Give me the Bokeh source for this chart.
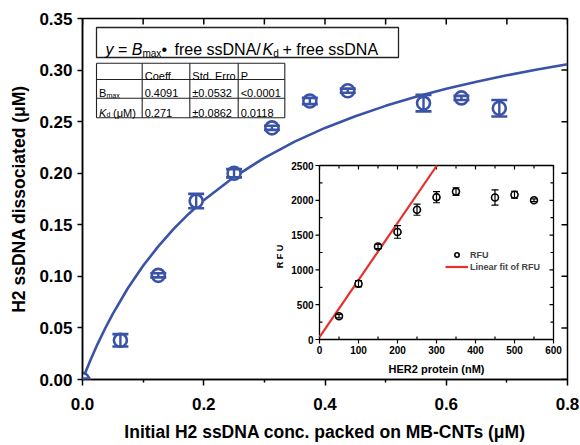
from bokeh.plotting import figure
from bokeh.models import (Range1d, FixedTicker, PrintfTickFormatter,
                          ColumnDataSource, Whisker, TeeHead, Legend, LegendItem)
from bokeh.core.properties import value
from bokeh.embed import file_html
from bokeh.resources import INLINE
import math

# ---------------- data ----------------
conc = [0.0, 0.0625, 0.125, 0.1875, 0.25, 0.3125, 0.375, 0.4375, 0.5625, 0.625, 0.6875]
dissociated = [0.0, 0.038, 0.101, 0.173, 0.200, 0.244, 0.270, 0.280, 0.268, 0.273, 0.263]
dissociated_err = [0.001, 0.006, 0.002, 0.007, 0.004, 0.002, 0.003, 0.002, 0.008, 0.002, 0.008]

fit_conc = [0.0, 0.0125, 0.025, 0.0375, 0.05, 0.075, 0.1, 0.125, 0.15, 0.175, 0.2, 0.25, 0.3,
            0.35, 0.4, 0.45, 0.5, 0.55, 0.6, 0.65, 0.7, 0.75, 0.8]
fit_val = [0.0, 0.0180, 0.0346, 0.0497, 0.0637, 0.0887, 0.1103, 0.1291, 0.1458, 0.1605, 0.1737,
           0.1963, 0.2149, 0.2306, 0.2439, 0.2553, 0.2653, 0.2741, 0.2818, 0.2887, 0.2949, 0.3005, 0.3056]

x_ticks = [0.0, 0.2, 0.4, 0.6, 0.8]
x_minor = [0.1, 0.3, 0.5, 0.7]
y_ticks = [0.0, 0.05, 0.10, 0.15, 0.20, 0.25, 0.30, 0.35]
top_ticks = [0.0, 0.1, 0.2, 0.3, 0.4, 0.5, 0.6, 0.7, 0.8]

her2 = [50, 100, 150, 200, 250, 300, 350, 450, 500, 550]
rfu = [335, 800, 1336, 1545, 1865, 2045, 2125, 2040, 2080, 2000]
rfu_err = [25, 45, 30, 90, 80, 80, 55, 110, 50, 20]
linfit_x = [0, 301]
linfit_y = [35, 2500]

inset_xlim = [0, 600]
inset_ylim = [0, 2500]
inset_xticks = [0, 100, 200, 300, 400, 500, 600]
inset_xminor = [50, 150, 250, 350, 450, 550]
inset_yticks = [0, 500, 1000, 1500, 2000, 2500]
inset_yminor = [250, 750, 1250, 1750, 2250]

table_header = ["Coeff.", "Std. Erro", "P"]
bmax_row = ["0.4091", "\u00b10.0532", "<0.0001"]
kd_row = ["0.271", "\u00b10.0862", "0.0118"]

BLUE = "#3a53a6"
RED = "#e6302b"
FONT = "Liberation Sans"

# ---------------- layout (canvas pixels) ----------------
W, H = 580, 445
X0, X1 = 82, 567
Y_T, Y_B = 18, 379
I_L, I_R, I_T, I_B = 319, 553, 165, 339
XR = (0.0, 0.8)
YR = (0.0, 0.35)

p = figure(width=W, height=H,
           x_range=Range1d(*XR), y_range=Range1d(*YR),
           output_backend="svg", toolbar_location=None,
           min_border_left=X0, min_border_right=W - X1,
           min_border_top=Y_T, min_border_bottom=H - Y_B,
           background_fill_color="white", border_fill_color="white")
p.grid.visible = False
p.outline_line_color = "black"
p.outline_line_width = 1.5

kx = (I_R - I_L) / (inset_xlim[1] - inset_xlim[0])
ky = (I_B - I_T) / (inset_ylim[1] - inset_ylim[0])
ix0 = inset_xlim[0] - (I_L - X0) / kx
ix1 = ix0 + (X1 - X0) / kx
iy0 = inset_ylim[0] - (Y_B - I_B) / ky
iy1 = iy0 + (Y_B - Y_T) / ky
p.extra_x_ranges = {"px": Range1d(X0, X1), "ix": Range1d(ix0, ix1)}
p.extra_y_ranges = {"py": Range1d(Y_B, Y_T), "iy": Range1d(iy0, iy1)}


def style_axis(ax):
    ax.axis_line_width = 1.5
    ax.major_tick_line_width = 1.5
    ax.minor_tick_line_width = 1.5
    ax.axis_line_color = "black"
    ax.major_tick_line_color = "black"
    ax.minor_tick_line_color = "black"
    ax.major_label_text_font = FONT
    ax.major_label_text_font_style = "bold"
    ax.major_label_text_font_size = "17px"
    ax.major_label_text_color = "black"
    ax.axis_label_text_font = FONT
    ax.axis_label_text_font_style = "bold"
    ax.axis_label_text_font_size = "17.5px"
    ax.axis_label_text_color = "black"


xa = p.xaxis[0]
style_axis(xa)
xa.ticker = FixedTicker(ticks=x_ticks, minor_ticks=x_minor)
xa.formatter = PrintfTickFormatter(format="%.1f")
xa.major_tick_out = 6
xa.major_tick_in = 0
xa.minor_tick_out = 3
xa.minor_tick_in = 0
xa.major_label_standoff = 12
xa.axis_label = "Initial H2 ssDNA conc. packed on MB-CNTs (\u03bcM)"
xa.axis_label_standoff = 9

ya = p.yaxis[0]
style_axis(ya)
ya.ticker = FixedTicker(ticks=y_ticks, minor_ticks=[])
ya.formatter = PrintfTickFormatter(format="%.2f")
ya.major_tick_out = 5
ya.major_tick_in = 0
ya.major_label_standoff = 5
ya.axis_label = "H2 ssDNA dissociated (\u03bcM)"
ya.axis_label_standoff = 7

# mirrored inward ticks on top and right edges of the main frame
kxx = (X1 - X0) / (XR[1] - XR[0])
kyy = (Y_B - Y_T) / (YR[1] - YR[0])
p.segment(x0=top_ticks, x1=top_ticks, y0=[YR[1]] * len(top_ticks),
          y1=[YR[1] - 6 / kyy] * len(top_ticks), line_color="black", line_width=1.5)
p.segment(x0=[XR[1]] * len(y_ticks), x1=[XR[1] - 6 / kxx] * len(y_ticks), y0=y_ticks, y1=y_ticks,
          line_color="black", line_width=1.5)

# ---------------- main series ----------------
p.line(fit_conc, fit_val, line_color=BLUE, line_width=2.6)

src = ColumnDataSource(dict(x=conc, y=dissociated,
                            lo=[v - e for v, e in zip(dissociated, dissociated_err)],
                            hi=[v + e for v, e in zip(dissociated, dissociated_err)]))
p.scatter("x", "y", source=src, marker="circle", size=13, fill_color="white",
          line_color=BLUE, line_width=2.6)
p.add_layout(Whisker(base="x", lower="lo", upper="hi", source=src, line_color=BLUE, line_width=2.4,
                     level="annotation",
                     upper_head=TeeHead(size=16, line_color=BLUE, line_width=2.6),
                     lower_head=TeeHead(size=16, line_color=BLUE, line_width=2.6)))

# ---------------- equation box ----------------
p.quad(left=[96], right=[398], top=[27], bottom=[57], fill_color="white", line_color="#222222",
       line_width=1.3, x_range_name="px", y_range_name="py")
eq_pieces = [
    ("y", 105, 49, "italic", "16px"),
    ("=", 117.5, 49, "normal", "16px"),
    ("B", 131.2, 49, "italic", "16px"),
    ("max", 141.9, 53, "normal", "10px"),
    ("\u2022", 161, 49, "normal", "16px"),
    ("free ssDNA/", 174, 49, "normal", "16px"),
    ("K", 262, 49, "italic", "16px"),
    ("d", 272.7, 53, "normal", "10px"),
    ("+ free ssDNA", 282, 49, "normal", "16px"),
]
for t, x, y, st, sz in eq_pieces:
    p.text(x=[x], y=[y], text=[t], text_font=value(FONT), text_font_style=st, text_font_size=sz,
           text_color="black", text_align="left", text_baseline="alphabetic",
           x_range_name="px", y_range_name="py")

# ---------------- parameter table ----------------
col_x = [96, 141.7, 189.3, 237.7, 284.3]
row_y = [62.7, 79, 97.7, 117.3]
p.multi_line(xs=[[col_x[0], col_x[-1]] for _ in row_y] + [[c, c] for c in col_x],
             ys=[[r, r] for r in row_y] + [[row_y[0], row_y[-1]] for _ in col_x],
             line_color="#222222", line_width=1.1, x_range_name="px", y_range_name="py")
cell_x = [c + 2.5 for c in col_x[1:4]]
for texts, base in ((table_header, 75), (bmax_row, 92.5), (kd_row, 112)):
    p.text(x=cell_x, y=[base] * 3, text=texts, text_font=value(FONT), text_font_size="11px",
           text_color="black", text_baseline="alphabetic", x_range_name="px", y_range_name="py")
row_labels = [
    ("B", 98.5, 92.5, "normal", "11px"),
    ("max", 106, 94.5, "normal", "7px"),
    ("K", 98.5, 112, "italic", "11px"),
    ("d", 106, 114, "normal", "7px"),
    ("(\u03bcM)", 112.5, 112, "normal", "11px"),
]
for t, x, y, st, sz in row_labels:
    p.text(x=[x], y=[y], text=[t], text_font=value(FONT), text_font_style=st, text_font_size=sz,
           text_color="black", text_baseline="alphabetic", x_range_name="px", y_range_name="py")

# ---------------- inset ----------------
IR = dict(x_range_name="ix", y_range_name="iy")
p.quad(left=[inset_xlim[0]], right=[inset_xlim[1]], bottom=[inset_ylim[0]], top=[inset_ylim[1]],
       fill_color="white", line_color="black", line_width=1.3, **IR)

maj, mnr = 4.0, 3.0
seg_x0, seg_y0, seg_x1, seg_y1 = [], [], [], []
for t in inset_xticks:
    seg_x0 += [t, t]; seg_x1 += [t, t]
    seg_y0 += [inset_ylim[0], inset_ylim[1]]
    seg_y1 += [inset_ylim[0] - maj / ky, inset_ylim[1] - maj / ky]
for t in inset_xminor:
    seg_x0 += [t, t]; seg_x1 += [t, t]
    seg_y0 += [inset_ylim[0], inset_ylim[1]]
    seg_y1 += [inset_ylim[0] + mnr / ky, inset_ylim[1] - mnr / ky]
for t in inset_yticks:
    seg_y0 += [t, t]; seg_y1 += [t, t]
    seg_x0 += [inset_xlim[0], inset_xlim[1]]
    seg_x1 += [inset_xlim[0] - maj / kx, inset_xlim[1] - maj / kx]
for t in inset_yminor:
    seg_y0 += [t, t]; seg_y1 += [t, t]
    seg_x0 += [inset_xlim[0], inset_xlim[1]]
    seg_x1 += [inset_xlim[0] + mnr / kx, inset_xlim[1] - mnr / kx]
p.segment(x0=seg_x0, y0=seg_y0, x1=seg_x1, y1=seg_y1, line_color="black", line_width=1.2, **IR)

p.text(x=inset_xticks, y=[inset_ylim[0] - 6 / ky] * len(inset_xticks),
       text=[str(t) for t in inset_xticks], text_font=value(FONT), text_font_style="bold",
       text_font_size="10px", text_color="black", text_align="center", text_baseline="top", **IR)
p.text(x=[inset_xlim[0] - 6 / kx] * len(inset_yticks), y=inset_yticks,
       text=[str(t) for t in inset_yticks], text_font=value(FONT), text_font_style="bold",
       text_font_size="10px", text_color="black", text_align="right", text_baseline="middle", **IR)

p.text(x=[(I_L + I_R) / 2], y=[368], text=["HER2 protein (nM)"], text_font=value(FONT),
       text_font_style="bold", text_font_size="11px", text_color="black", text_align="center",
       text_baseline="middle", x_range_name="px", y_range_name="py")
p.text(x=[279], y=[256], text=["R F U"], text_font=value(FONT), angle=math.pi / 2,
       text_font_style="bold", text_font_size="9px", text_color="black", text_align="center",
       text_baseline="middle", x_range_name="px", y_range_name="py")

fit_r = p.line(linfit_x, linfit_y, line_color=RED, line_width=2.2, **IR)
isrc = ColumnDataSource(dict(x=her2, y=rfu,
                             lo=[v - e for v, e in zip(rfu, rfu_err)],
                             hi=[v + e for v, e in zip(rfu, rfu_err)]))
pts_r = p.scatter("x", "y", source=isrc, marker="circle", size=7, fill_color="white",
                  line_color="black", line_width=1.6, **IR)
p.add_layout(Whisker(base="x", lower="lo", upper="hi", source=isrc, line_color="black",
                     line_width=1.2, x_range_name="ix", y_range_name="iy", level="annotation",
                     upper_head=TeeHead(size=7, line_color="black", line_width=1.2),
                     lower_head=TeeHead(size=7, line_color="black", line_width=1.2)))

legend = Legend(items=[LegendItem(label="RFU", renderers=[pts_r]),
                       LegendItem(label="Linear fit of RFU", renderers=[fit_r])],
                location=(445 - X0, Y_B - 272), orientation="vertical",
                label_text_font=FONT, label_text_font_style="bold", label_text_font_size="9px",
                glyph_width=23, glyph_height=11, label_standoff=2, spacing=1, padding=0, margin=0,
                label_height=11, border_line_color=None, background_fill_alpha=0)
p.add_layout(legend, "center")

open("out.html", "w").write(file_html(p, INLINE))
